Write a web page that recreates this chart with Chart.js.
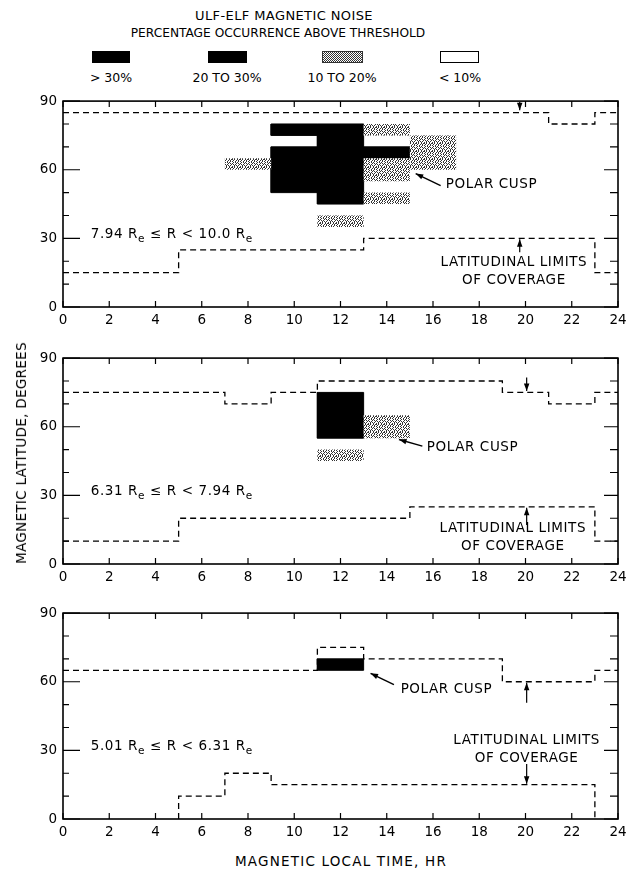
<!DOCTYPE html>
<html>
<head>
<meta charset="utf-8">
<script src="https://cdn.jsdelivr.net/npm/chart.js@4.4.1/dist/chart.umd.min.js"></script>
<style>
  body { margin: 0; background: #fff; width: 627px; height: 872px; position: relative; overflow: hidden;
         font-family: 'DejaVu Sans', sans-serif; color: #000; }
  .c { position: absolute; white-space: nowrap; transform: translate(-50%, -50%); font-size: 12.5px; }
  .sw { position: absolute; top: 51px; height: 12px; box-sizing: border-box; }
  canvas { position: absolute; left: 0; }
</style>
</head>
<body>
<div class="c" style="left:284px;top:15px;font-size:13px;letter-spacing:0.4px">ULF-ELF MAGNETIC NOISE</div>
<div class="c" style="left:278px;top:33px;font-size:12.2px">PERCENTAGE OCCURRENCE ABOVE THRESHOLD</div>

<div class="sw" style="left:92px;width:38px;background:#000"></div>
<div class="sw" style="left:208px;width:39px;background:#000"></div>
<div class="sw" style="left:322px;width:41px;border:1px solid #333;background:repeating-conic-gradient(#333 0 25%, #fff 0 50%) 0 0/2px 2px"></div>
<div class="sw" style="left:440px;width:39px;border:1.5px solid #000;background:#fff"></div>
<div class="c" style="left:111px;top:77px">&gt; 30%</div>
<div class="c" style="left:227px;top:77px">20 TO 30%</div>
<div class="c" style="left:342px;top:77px">10 TO 20%</div>
<div class="c" style="left:460px;top:77px">&lt; 10%</div>

<canvas id="p1" width="640" height="252" style="top:87px"></canvas>
<canvas id="p2" width="640" height="252" style="top:344px"></canvas>
<canvas id="p3" width="640" height="252" style="top:599px"></canvas>

<div class="c" style="left:21px;top:453px;font-size:13.5px;letter-spacing:0.3px;transform:translate(-50%,-50%) rotate(-90deg)">MAGNETIC LATITUDE, DEGREES</div>
<div class="c" style="left:341px;top:861px;font-size:13.5px;letter-spacing:1.2px">MAGNETIC LOCAL TIME, HR</div>

<script>
// 7.94 Re <= R < 10.0 Re
const p1Range = ['7.94', '10.0'];
const p1UpperHr = [0, 21, 23, 24];
const p1UpperLat = [85, 80, 85, 85];
const p1LowerHr = [0, 5, 13, 23, 24];
const p1LowerLat = [15, 25, 30, 15, 15];
// cells: [hour from, hour to, lat from, lat to]
const p1Black = [[9, 11, 75, 80], [9, 11, 50, 70], [11, 13, 45, 80], [13, 15, 65, 70]];
const p1Dotted = [[7, 9, 60, 65], [11, 13, 35, 40], [13, 15, 75, 80], [13, 15, 55, 65], [13, 15, 45, 50], [15, 17, 60, 75]];

// 6.31 Re <= R < 7.94 Re
const p2Range = ['6.31', '7.94'];
const p2UpperHr = [0, 7, 9, 11, 19, 21, 23, 24];
const p2UpperLat = [75, 70, 75, 80, 75, 70, 75, 75];
const p2LowerHr = [0, 5, 15, 23, 24];
const p2LowerLat = [10, 20, 25, 10, 10];
const p2Black = [[11, 13, 55, 75]];
const p2Dotted = [[11, 13, 45, 50], [13, 15, 55, 65]];

// 5.01 Re <= R < 6.31 Re  (lower limit sits on the axis before 05 and after 23 hr)
const p3Range = ['5.01', '6.31'];
const p3UpperHr = [0, 11, 13, 19, 23, 24];
const p3UpperLat = [65, 75, 70, 60, 65, 65];
const p3LowerHr = [5, 5, 7, 9, 23];
const p3LowerLat = [0, 10, 20, 15, 0];
const p3Black = [[11, 13, 65, 70]];
const p3Dotted = [];

const FONT = "'DejaVu Sans', sans-serif";

function makeStipple() {
    const rows = ['x.x..x.x', '.x..x.x.', 'x..x..x.', '.x.x.x..', 'x...x.x.', '.x.x...x', '..x.x.x.', 'x.x..x..'];
    const c = document.createElement('canvas');
    c.width = c.height = 8;
    const g = c.getContext('2d');
    g.fillStyle = '#fff';
    g.fillRect(0, 0, 8, 8);
    g.fillStyle = '#333';
    rows.forEach((r, j) => [...r].forEach((ch, i) => { if (ch === 'x') g.fillRect(i, j, 1, 1); }));
    return g.createPattern(c, 'repeat');
}
const stipple = makeStipple();

function cellSet(cell, color, edge) {
    const [h0, h1, l0, l1] = cell;
    return {
        data: [{ x: h0, y: l0 }, { x: h1, y: l0 }, { x: h1, y: l1 }, { x: h0, y: l1 }, { x: h0, y: l0 }],
        fill: 'shape', backgroundColor: color, borderColor: edge, borderWidth: edge ? 1 : 0,
        pointRadius: 0, tension: 0
    };
}

function limitSet(hours, lats) {
    return {
        data: hours.map((h, i) => ({ x: h, y: lats[i] })),
        stepped: 'before', fill: false, borderColor: '#000', borderWidth: 1.3,
        borderDash: [6, 4], pointRadius: 0
    };
}

function arrow(ctx, x0, y0, x1, y1) {
    const a = Math.atan2(y1 - y0, x1 - x0);
    ctx.beginPath();
    ctx.moveTo(x0, y0);
    ctx.lineTo(x1, y1);
    ctx.stroke();
    ctx.beginPath();
    ctx.moveTo(x1, y1);
    ctx.lineTo(x1 - 8 * Math.cos(a - 0.35), y1 - 8 * Math.sin(a - 0.35));
    ctx.lineTo(x1 - 8 * Math.cos(a + 0.35), y1 - 8 * Math.sin(a + 0.35));
    ctx.closePath();
    ctx.fill();
}

const framePlugin = {
    id: 'frame',
    afterDatasetsDraw(chart, args, opts) {
        const { ctx, chartArea: a, scales: { x, y } } = chart;
        ctx.save();
        ctx.strokeStyle = '#000';
        ctx.fillStyle = '#000';
        ctx.lineWidth = 1.6;
        ctx.strokeRect(a.left, a.top, a.right - a.left, a.bottom - a.top);
        ctx.lineWidth = 1.2;
        ctx.beginPath();
        x.ticks.forEach(t => {
            const px = x.getPixelForValue(t.value);
            ctx.moveTo(px, a.bottom); ctx.lineTo(px, a.bottom - 6);
            ctx.moveTo(px, a.top); ctx.lineTo(px, a.top + 6);
        });
        y.ticks.forEach(t => {
            const py = y.getPixelForValue(t.value);
            const major = t.value % 30 === 0;
            ctx.moveTo(a.left, py); ctx.lineTo(a.left + (major ? 17 : 6), py);
            ctx.moveTo(a.right, py); ctx.lineTo(a.right - (major ? 14 : 8), py);
        });
        ctx.stroke();

        const X = v => x.getPixelForValue(v);
        const Y = v => y.getPixelForValue(v);
        ctx.letterSpacing = '0.6px';
        ctx.textBaseline = 'middle';

        // radial distance range, with subscript e
        let px = X(opts.rangeAt[0]);
        const py = Y(opts.rangeAt[1]);
        ctx.textAlign = 'left';
        const parts = [[opts.range[0] + ' R', 0], ['e', 1], [' \u2264 R < ' + opts.range[1] + ' R', 0], ['e', 1]];
        parts.forEach(([s, sub]) => {
            ctx.font = (sub ? '10.5px ' : '13.5px ') + FONT;
            ctx.fillText(s, px, py + (sub ? 4 : 0));
            px += ctx.measureText(s).width;
        });

        ctx.font = '13.5px ' + FONT;
        ctx.fillText('POLAR CUSP', X(opts.cusp.text[0]), Y(opts.cusp.text[1]));
        ctx.lineWidth = 1.4;
        arrow(ctx, X(opts.cusp.tail[0]), Y(opts.cusp.tail[1]), X(opts.cusp.tip[0]), Y(opts.cusp.tip[1]));

        ctx.textAlign = 'center';
        ctx.fillText('LATITUDINAL LIMITS', X(opts.limits.at), Y(opts.limits.lat[0]));
        ctx.fillText('OF COVERAGE', X(opts.limits.at), Y(opts.limits.lat[1]));

        ctx.lineWidth = 1.2;
        opts.arrows.forEach(([h, from, to]) => arrow(ctx, X(h), Y(from), X(h), Y(to)));
        ctx.restore();
    }
};

function makePanel(id, p) {
    const datasets = [];
    p.dotted.forEach(c => datasets.push(cellSet(c, stipple, null)));
    p.black.forEach(c => datasets.push(cellSet(c, '#000', '#000')));
    datasets.push(limitSet(p.upperHr, p.upperLat));
    datasets.push(limitSet(p.lowerHr, p.lowerLat));

    new Chart(document.getElementById(id), {
        type: 'line',
        data: { datasets },
        options: {
            responsive: false,
            animation: false,
            devicePixelRatio: 1,
            layout: { padding: { top: 12, right: 22, left: 0, bottom: 0 } },
            scales: {
                x: {
                    type: 'linear', min: 0, max: 24,
                    ticks: { stepSize: 2, color: '#000', font: { family: FONT, size: 13.5 }, padding: 5, maxRotation: 0, autoSkip: false },
                    grid: { display: false, drawTicks: false },
                    border: { display: false },
                    afterFit(s) { s.height = 32; }
                },
                y: {
                    min: 0, max: 90,
                    ticks: { stepSize: 10, color: '#000', font: { family: FONT, size: 13.5 }, padding: 6,
                             callback: v => (v % 30 === 0 ? v : '') },
                    grid: { display: false, drawTicks: false },
                    border: { display: false },
                    afterFit(s) { s.width = 63; }
                }
            },
            plugins: {
                legend: { display: false },
                tooltip: { enabled: false },
                frame: { range: p.range, rangeAt: [1.2, 31.5], cusp: p.cusp, limits: p.limits, arrows: p.arrows }
            }
        },
        plugins: [framePlugin]
    });
}

makePanel('p1', {
    range: p1Range, upperHr: p1UpperHr, upperLat: p1UpperLat, lowerHr: p1LowerHr, lowerLat: p1LowerLat,
    black: p1Black, dotted: p1Dotted,
    cusp: { text: [16.55, 53.5], tip: [15.25, 58.3], tail: [16.33, 53.1] },
    limits: { at: 19.5, lat: [19.6, 11.7] },
    arrows: [[19.75, 89.6, 86], [19.75, 23.9, 29.6]]
});
makePanel('p2', {
    range: p2Range, upperHr: p2UpperHr, upperLat: p2UpperLat, lowerHr: p2LowerHr, lowerLat: p2LowerLat,
    black: p2Black, dotted: p2Dotted,
    cusp: { text: [15.73, 51], tip: [14.53, 54.4], tail: [15.54, 51.5] },
    limits: { at: 19.45, lat: [15.6, 7.5] },
    arrows: [[20.05, 81.5, 75.6], [20.05, 17, 24.6]]
});
makePanel('p3', {
    range: p3Range, upperHr: p3UpperHr, upperLat: p3UpperLat, lowerHr: p3LowerHr, lowerLat: p3LowerLat,
    black: p3Black, dotted: p3Dotted,
    cusp: { text: [14.6, 56.6], tip: [13.3, 63.7], tail: [14.31, 58.7] },
    limits: { at: 20.05, lat: [34.2, 26.3] },
    arrows: [[20.05, 50.8, 59.6], [20.05, 24, 15.4]]
});
</script>
</body>
</html>
